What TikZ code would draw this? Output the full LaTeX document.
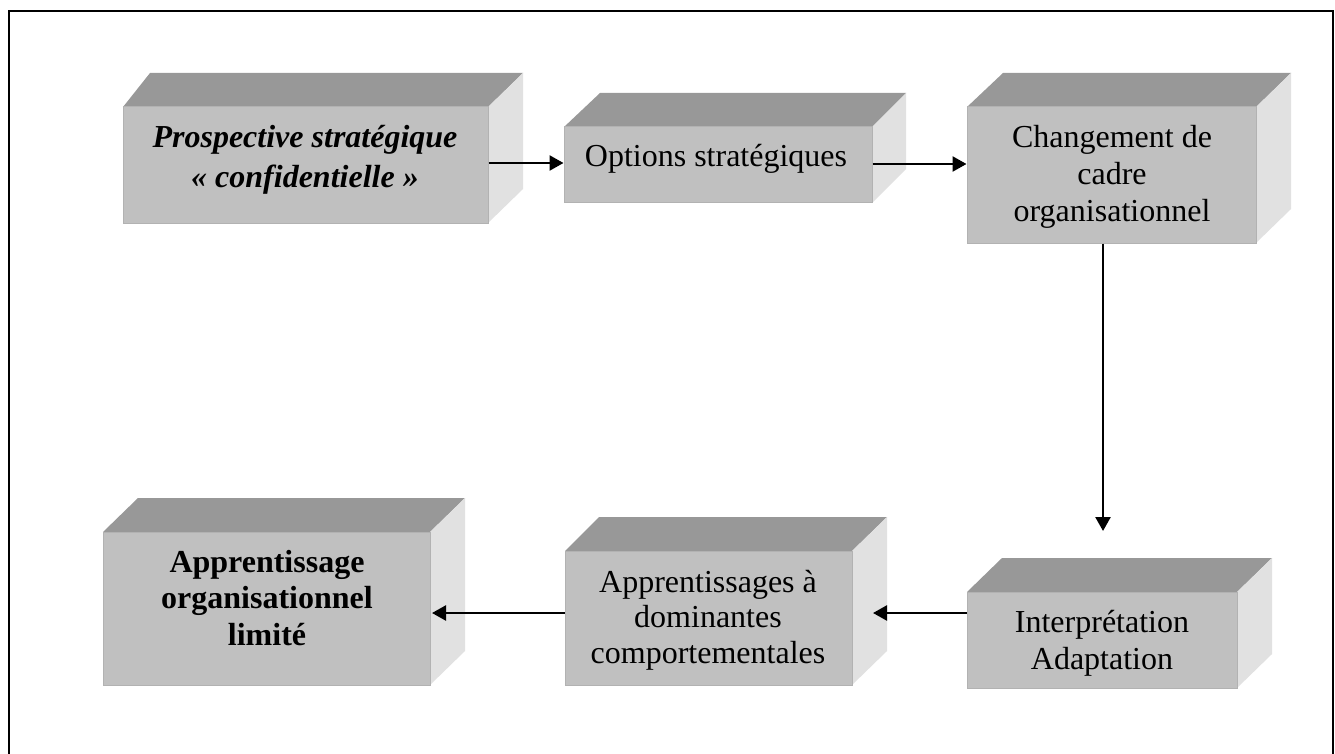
\documentclass[tikz,border=0pt]{standalone}
\usepackage{fontspec}
\setmainfont{Liberation Serif}
\usetikzlibrary{arrows.meta,calc}
\definecolor{frontc}{RGB}{192,192,192}
\definecolor{topc}{RGB}{152,152,152}
\definecolor{sidec}{RGB}{225,225,225}
\definecolor{edgec}{RGB}{178,178,178}
\tikzset{
  face/.style={fill=frontc, draw=edgec, line width=1pt, inner sep=0pt, rectangle},
  lbl/.style={align=center, inner sep=0pt, font=\fontsize{32}{37}\selectfont},
  arr/.style={line width=2.4pt, -{Triangle[length=14pt,width=15pt]}},
  frame/.style={line width=2.8pt, draw=black}
}
% name, x1, y1, x2, y2, dl, dr, dy
\newcommand{\cubebox}[8]{%
  \fill[topc] (#2,#3) -- (#2+#6,#3-#8) -- (#4+#7,#3-#8) -- (#4,#3) -- cycle;
  \fill[sidec] (#4,#3) -- (#4+#7,#3-#8) -- (#4+#7,#5-#8) -- (#4,#5) -- cycle;
  \node[face, minimum width={#4-#2}, minimum height={#5-#3}] (#1) at ({(#2+#4)/2},{(#3+#5)/2}) {};
}
\begin{document}
\begin{tikzpicture}[x=1pt,y=-1pt]
\useasboundingbox (0,0) rectangle (1335,754);
\fill[white] (0,0) rectangle (1335,754);
\draw[frame] (9,760) -- (9,11) -- (1333,11) -- (1333,760);

\cubebox{b1}{123}{107}{488}{223}{27}{35}{34}
\cubebox{b2}{564}{127}{872}{203}{36}{34}{34}
\cubebox{b3}{967}{107}{1256}{243}{36}{35}{34}
\cubebox{b6}{967}{592}{1237}{688}{35}{35}{34}
\cubebox{b5}{565}{551}{852}{685}{34}{35}{34}
\cubebox{b4}{103}{532}{430}{685}{35}{35}{34}

% anchor=base is the baseline of the last line
\node[lbl, anchor=base, font=\fontsize{32}{40}\selectfont\bfseries\itshape] (t1) at (305,188) {Prospective stratégique\\« confidentielle »};
\node[lbl, anchor=base] (t2) at (716,167) {Options stratégiques};
\node[lbl, anchor=base] (t3) at (1112,222) {Changement de\\cadre\\organisationnel};
\node[lbl, anchor=base] (t6) at (1102,669) {Interprétation\\Adaptation};
\node[lbl, anchor=base, font=\fontsize{32}{35.5}\selectfont] (t5) at (708,663) {Apprentissages à\\dominantes\\comportementales};
\node[lbl, anchor=base, font=\fontsize{32}{36.5}\selectfont\bfseries] (t4) at (267,645) {Apprentissage\\organisationnel\\limité};

\coordinate (tip3) at (1103,531);
\coordinate (tip4) at (873,613);
\coordinate (tip5) at (432,613);
\draw[arr] ([yshift=2pt]b1.east) -- ([yshift=2pt]b1.east -| b2.west);
\draw[arr] ([yshift=1pt]b2.east) -- ([yshift=1pt]b2.east -| b3.west);
\draw[arr] (b3.south -| tip3) -- (tip3);
\draw[arr] (b6.west |- tip4) -- (tip4);
\draw[arr] (b5.west |- tip5) -- (tip5);
\end{tikzpicture}
\end{document}
